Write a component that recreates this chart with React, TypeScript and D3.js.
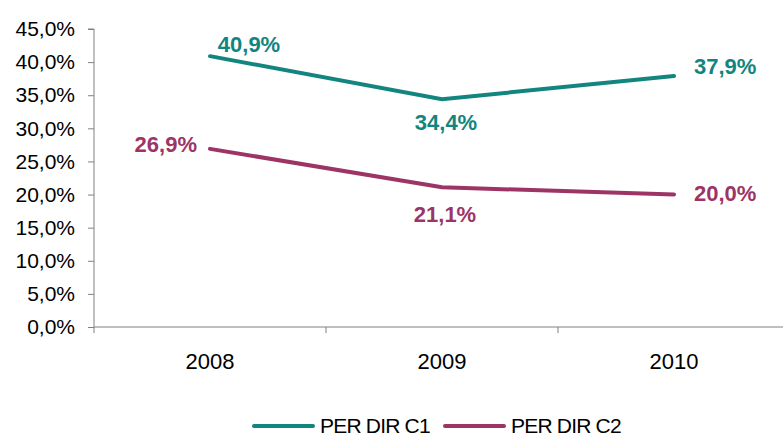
import React, { useEffect, useRef } from 'react';
import * as d3 from 'd3';

const years = ['2008', '2009', '2010'];
const c1Values = [40.9, 34.4, 37.9];
const c2Values = [26.9, 21.1, 20.0];
const seriesNames = ['PER DIR C1', 'PER DIR C2'];
const yTicks = [0, 5, 10, 15, 20, 25, 30, 35, 40, 45];

const TEAL = '#12857f';
const PLUM = '#9c3566';

const fmt = (v: number) => v.toFixed(1).replace('.', ',') + '%';

const App = () => {
  const svgRef = useRef<SVGSVGElement>(null);

  useEffect(() => {
    const svg = d3.select(svgRef.current);
    svg.selectAll('*').remove();

    const font = '"Liberation Sans", Arial, sans-serif';
    const left = 94, right = 790, top = 29, bottom = 327;

    const x = d3.scaleBand().domain(years).range([left, right]);
    const y = d3.scaleLinear().domain([0, 45]).range([bottom, top]);
    const cx = (d: string) => (x(d) as number) + x.bandwidth() / 2;

    // y axis
    const yAxis = svg.append('g')
      .attr('transform', `translate(${left},0)`)
      .call(d3.axisLeft(y).tickValues(yTicks).tickSize(6).tickPadding(13).tickFormat(d => fmt(d as number)));
    yAxis.select('.domain').attr('stroke', '#808080').attr('d', `M-6,${top}H0V${bottom}`);
    yAxis.selectAll('.tick line').attr('stroke', '#808080');
    yAxis.selectAll('.tick text')
      .attr('fill', '#000')
      .style('font-family', font)
      .style('font-size', '21px');

    // x axis
    const xAxis = svg.append('g')
      .attr('transform', `translate(0,${bottom})`);
    xAxis.append('line')
      .attr('x1', left).attr('x2', right)
      .attr('stroke', '#808080');
    xAxis.selectAll('line.tk')
      .data(years)
      .enter()
      .append('line')
      .attr('class', 'tk')
      .attr('x1', d => x(d) as number)
      .attr('x2', d => x(d) as number)
      .attr('y1', 0).attr('y2', 6)
      .attr('stroke', '#808080');
    xAxis.selectAll('text')
      .data(years)
      .enter()
      .append('text')
      .attr('x', d => cx(d))
      .attr('y', 42)
      .attr('text-anchor', 'middle')
      .style('font-family', font)
      .style('font-size', '22px')
      .text(d => d);

    const line = d3.line<number>()
      .x((_, i) => cx(years[i]))
      .y(d => y(d));

    const series = [
      { values: c1Values, color: TEAL, offsets: [[39, -4, 'middle'], [4, 31, 'middle'], [20, -2, 'start']] },
      { values: c2Values, color: PLUM, offsets: [[-13, 3, 'end'], [3, 35, 'middle'], [20, 6, 'start']] },
    ];

    series.forEach(s => {
      svg.append('path')
        .datum(s.values)
        .attr('fill', 'none')
        .attr('stroke', s.color)
        .attr('stroke-width', 4)
        .attr('stroke-linecap', 'round')
        .attr('d', line);

      svg.selectAll(null)
        .data(s.values)
        .enter()
        .append('text')
        .attr('x', (d, i) => cx(years[i]) + (s.offsets[i][0] as number))
        .attr('y', (d, i) => y(d) + (s.offsets[i][1] as number))
        .attr('text-anchor', (d, i) => s.offsets[i][2] as string)
        .attr('fill', s.color)
        .style('font-family', font)
        .style('font-size', '22px')
        .style('font-weight', 'bold')
        .text(d => fmt(d));
    });

    // legend
    const legend = svg.append('g').attr('transform', 'translate(0,426)');
    const legendX = [254, 445];
    seriesNames.forEach((name, i) => {
      legend.append('line')
        .attr('x1', legendX[i]).attr('x2', legendX[i] + 59)
        .attr('y1', 0).attr('y2', 0)
        .attr('stroke', series[i].color)
        .attr('stroke-width', 4)
        .attr('stroke-linecap', 'round');
      legend.append('text')
        .attr('x', legendX[i] + 66)
        .attr('y', 7)
        .style('font-family', font)
        .style('font-size', '21px')
        .style('letter-spacing', '-0.8px')
        .text(name);
    });
  }, []);

  return (
    <svg
      ref={svgRef}
      width={783}
      height={438}
      style={{ position: 'absolute', left: 0, top: 0, background: '#fff' }}
    />
  );
};

export default App;
